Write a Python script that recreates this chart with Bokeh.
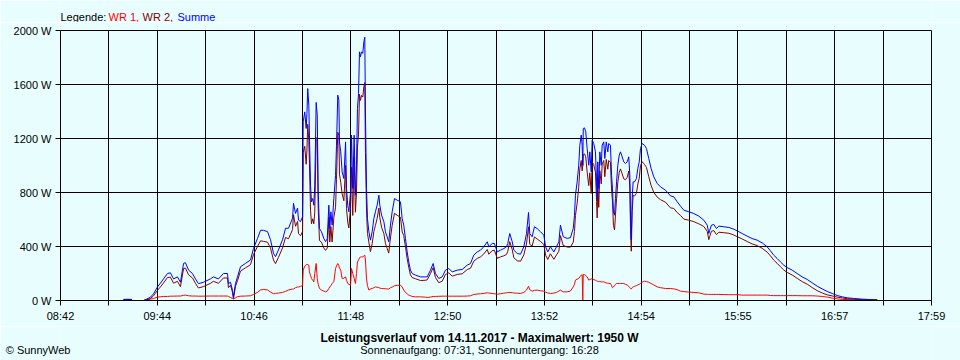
from bokeh.plotting import figure
from bokeh.models import Range1d, FixedTicker, LinearAxis
from bokeh.layouts import column
from bokeh.core.properties import value
from bokeh.embed import file_html
from bokeh.resources import INLINE

# ---------------- data ----------------
# time in minutes after midnight
t_min = [
    562.3, 567.4, 568.0, 575.1, 577.0, 579.6, 581.5, 584.0, 586.0, 587.9,
    590.4, 592.3, 594.3, 596.8, 598.7, 600.7, 601.9, 603.9, 606.4, 608.3,
    610.2, 613.4, 617.9, 619.8, 623.0, 626.2, 628.8, 629.4, 630.7, 632.0,
    632.6, 633.9, 635.2, 637.1, 640.3, 643.5, 645.4, 648.0, 649.9, 651.8,
    654.4, 656.3, 658.2, 659.5, 661.4, 664.0, 665.9, 667.8, 670.4, 671.0,
    672.3, 673.6, 674.2, 675.5, 676.8,
    677.2, 678.2, 679.1, 679.6, 680.1, 680.8, 681.2, 681.9, 682.5, 683.3,
    684.0, 684.6, 685.5, 686.2, 686.8, 687.6, 688.9, 690.4, 691.5, 692.6,
    693.6, 694.2, 694.9, 695.7, 696.8, 697.9, 698.5, 699.3, 700.0, 700.4,
    701.2, 702.1, 703.2, 704.3, 704.9, 705.7, 706.4, 707.5, 708.1, 708.9,
    709.8, 710.6, 711.3, 711.9, 712.6, 713.2, 713.8, 714.5, 715.3, 716.0,
    716.6, 717.0, 717.7, 718.3, 719.2, 720.2, 721.3, 722.4, 723.4, 724.5,
    725.6, 726.2, 727.3, 728.8, 729.8, 730.9, 731.9, 733.0, 734.1, 735.6,
    737.3, 739.4, 740.5, 741.5, 742.6, 743.7, 744.7, 745.8, 746.9, 749.0,
    752.2, 755.4,
    756.5, 758.6, 760.3, 761.8, 763.9, 766.1, 768.2, 770.3, 772.5, 775.7,
    778.9, 782.1, 784.2, 786.3, 788.5, 790.6, 792.7, 794.9, 795.9, 798.1,
    799.5, 801.3, 803.4, 805.5, 807.2, 808.0, 809.3, 810.9, 811.9, 814.1,
    816.2, 818.3, 820.0, 821.3, 822.1, 823.6, 825.1, 826.8, 829.0, 831.1,
    832.2, 833.6, 835.3, 837.5, 839.2, 840.7, 841.7, 843.5, 846.0, 848.1,
    849.9, 850.7, 851.3, 852.4, 853.4, 854.1, 855.0, 855.6, 856.0, 856.3,
    857.1, 857.9, 858.8, 859.8, 860.5, 861.4, 862.0, 863.0, 864.1, 864.8,
    865.2, 865.6, 866.2, 866.9, 867.8, 868.4, 869.4, 870.1, 871.0, 872.0,
    872.6, 873.7, 874.4, 875.0, 875.6, 876.3, 876.9, 877.6, 878.4, 879.3,
    880.1, 881.2, 882.2, 883.3, 884.4, 885.4, 886.1, 886.5, 887.0, 887.6,
    888.2, 889.1, 890.3, 891.2, 892.1, 892.9, 894.0, 895.5, 896.7, 898.2,
    899.7, 901.4, 903.6, 905.7, 908.9,
    912.1, 914.2, 916.4, 918.5, 920.6, 923.8, 927.0, 930.2, 933.4, 935.6,
    936.6, 937.2, 938.3, 939.8, 941.5, 943.0, 946.2, 949.4, 952.6, 955.1,
    957.9, 961.1, 964.3, 967.5, 970.7, 973.9, 976.0, 978.1, 980.3, 982.4,
    984.5, 986.7, 989.9, 993.1, 996.3, 999.5, 1002.7, 1005.9, 1009.1, 1012.3,
    1015.5, 1018.7, 1021.9, 1025.1, 1029.3, 1034.7, 1040.0, 1044.3,
]

# WR 1 (W)
wr1 = [
    0, 0, 0, 0, 5, 10, 15, 25, 28, 30,
    30, 32, 32, 33, 33, 38, 40, 35, 33, 33,
    32, 32, 33, 33, 33, 33, 33, 30, 22, 15,
    12, 20, 28, 32, 33, 35, 45, 60, 78, 82,
    78, 62, 50, 52, 55, 60, 68, 78, 85, 85,
    95, 100, 100, 105, 110,
    225, 255, 265, 270, 265, 262, 212, 185, 163, 150,
    138, 200, 274, 163, 120, 89, 77, 70, 64, 70,
    89, 100, 110, 125, 140, 237, 255, 274, 260, 240,
    225, 163, 165, 175, 150, 126, 120, 114, 237, 200,
    163, 126, 200, 286, 300, 315, 323, 323, 323, 330,
    336, 300, 160, 110, 77, 85, 89, 95, 101, 98,
    95, 92, 89, 88, 87, 86, 84, 95, 100, 109,
    112, 114, 100, 77, 60, 50, 40, 35, 30, 27,
    27, 25,
    22, 25, 30, 30, 31, 32, 32, 32, 32, 32,
    32, 33, 35, 45, 48, 50, 53, 57, 55, 52,
    50, 47, 50, 54, 57, 59, 60, 58, 56, 54,
    52, 60, 77, 106, 80, 69, 75, 77, 72, 69,
    62, 56, 52, 55, 60, 70, 77, 64, 64, 70,
    101, 120, 151, 158, 163, 175, 188, 190, 0, 193,
    193, 185, 175, 151, 155, 160, 163, 155, 150, 145,
    143, 143, 140, 140, 138, 138, 138, 135, 130, 128,
    126, 126, 110, 94, 100, 110, 120, 126, 126, 126,
    126, 126, 126, 120, 115, 105, 95, 89, 85, 95,
    101, 105, 110, 115, 120, 126, 135, 143, 140, 135,
    126, 115, 101, 95, 89,
    89, 86, 80, 69, 66, 62, 60, 57, 47, 46,
    45, 45, 45, 45, 45, 45, 44, 43, 43, 43,
    40, 40, 40, 40, 40, 40, 37, 36, 36, 36,
    36, 36, 36, 36, 35, 35, 35, 33, 30, 25,
    18, 12, 8, 7, 5, 4, 3, 2,
]

# Summe (W)
summe = [
    8, 8, 0, 0, 10, 25, 50, 100, 130, 160,
    200, 205, 160, 175, 135, 275, 280, 225, 200, 160,
    125, 135, 160, 175, 160, 200, 200, 125, 135, 75,
    25, 125, 175, 250, 275, 300, 385, 460, 520, 520,
    510, 450, 350, 325, 375, 450, 535, 535, 610, 720,
    645, 685, 595, 585, 620,
    1323, 1397, 1274, 1385, 1570, 1447, 1225, 854, 731, 755,
    706, 854, 1467, 1373, 805, 533, 509, 459, 435, 459,
    706, 533, 657, 558, 755, 928, 1150, 1521, 1484, 1175,
    1101, 953, 904, 1175, 830, 706, 657, 805, 1225, 830,
    1225, 780, 1002, 1422, 1533, 1842, 1805, 1842, 1830, 1916,
    1950, 1397, 830, 607, 509, 447, 509, 607, 657, 706,
    780, 706, 632, 583, 509, 472, 435, 558, 657, 755,
    743, 731, 607, 558, 459, 360, 286, 225, 200, 188,
    175, 175,
    175, 225, 274, 200, 163, 175, 225, 237, 212, 225,
    230, 262, 274, 336, 360, 373, 398, 435, 398, 422,
    422, 360, 373, 385, 398, 422, 496, 435, 373, 348,
    343, 398, 496, 652, 496, 472, 546, 533, 509, 484,
    398, 360, 398, 360, 398, 435, 558, 472, 460, 465,
    533, 632, 780, 879, 1002, 1150, 1225, 1150, 1000, 1274,
    1279, 1249, 1126, 1002, 1101, 953, 1188, 1163, 1101, 879,
    755, 1027, 830, 1101, 1002, 1150, 1175, 1052, 1175, 1101,
    1163, 1150, 928, 830, 657, 632, 755, 879, 1002, 1076,
    1101, 1064, 1027, 1015, 1027, 1064, 928, 632, 450, 755,
    879, 879, 904, 978, 1027, 1126, 1163, 1150, 1126, 1052,
    978, 916, 867, 842, 817,
    775, 768, 731, 699, 669, 657, 644, 625, 595, 558,
    496, 521, 558, 563, 533, 551, 546, 541, 528, 514,
    496, 477, 459, 447, 427, 398, 368, 336, 311, 286,
    262, 244, 225, 200, 175, 156, 131, 106, 86, 67,
    52, 37, 27, 20, 15, 10, 7, 5,
]

# WR 2 = Summe - WR 1
wr2 = [max(s - a, 0) for s, a in zip(summe, wr1)]

x_tick_labels = ["08:42", "09:44", "10:46", "11:48", "12:50",
                 "13:52", "14:54", "15:55", "16:57", "17:59"]
y_tick_values = [0, 400, 800, 1200, 1600, 2000]
y_tick_labels = ["0 W", "400 W", "800 W", "1200 W", "1600 W", "2000 W"]

legend_parts = ["Legende:", "WR 1,", "WR 2,", "Summe"]
title_text = "Leistungsverlauf vom 14.11.2017 - Maximalwert: 1950 W"
sub_text = "Sonnenaufgang: 07:31, Sonnenuntergang: 16:28"
copy_text = "\u00a9 SunnyWeb"

# ---------------- style ----------------
BG = "#E8FEFE"
FONT = "Liberation Sans"
C_WR1, C_WR2, C_SUM = "#FF0000", "#800000", "#0000FF"
W = 960
LEFT, RIGHT = 60, 29          # page x of frame: 60 .. 931
X0, X1 = 522, 1079


def strip(h, top):
    # page-pixel coordinates inside a strip whose frame is aligned with the chart
    f = figure(width=W, height=h, output_backend="svg", toolbar_location=None,
               x_range=Range1d(LEFT, W - RIGHT), y_range=Range1d(top + h, top),
               x_axis_type=None, y_axis_type=None,
               min_border_left=LEFT, min_border_right=RIGHT,
               min_border_top=0, min_border_bottom=0)
    f.background_fill_color = BG
    f.border_fill_color = BG
    f.outline_line_color = None
    return f


def txt(f, x, y, s, color="black", align="left", bold=False, size="11px"):
    f.text(x=[x], y=[y], text=[s], text_color=color, text_font=value(FONT),
           text_font_size=value(size), text_align=align, text_baseline="middle",
           text_font_style="bold" if bold else "normal")


# legend strip (page y 0..22)
leg = strip(22, 0)
for xpos, part, col in zip([60, 108, 142, 177], legend_parts,
                           ["black", C_WR1, C_WR2, C_SUM]):
    txt(leg, xpos, 16, part, col)

# main chart (page y 22..326, frame 30..300)
p = figure(width=W, height=304, output_backend="svg", toolbar_location=None,
           x_range=Range1d(X0, X1), y_range=Range1d(0, 2000),
           min_border_left=LEFT, min_border_right=RIGHT,
           min_border_top=8, min_border_bottom=26)
p.background_fill_color = BG
p.border_fill_color = BG
p.outline_line_color = "black"
p.outline_line_width = 1

n_ticks = 2 * (len(x_tick_labels) - 1)
x_ticks = [round(X0 + i * (X1 - X0) / n_ticks, 4) for i in range(n_ticks + 1)]
x_over = {}
for i, v in enumerate(x_ticks):
    x_over[v] = x_tick_labels[i // 2] if i % 2 == 0 else ""

p.xaxis.ticker = FixedTicker(ticks=x_ticks)
p.xaxis.major_label_overrides = x_over
p.yaxis.ticker = FixedTicker(ticks=y_tick_values)
p.yaxis.major_label_overrides = dict(zip(y_tick_values, y_tick_labels))

for ax in (p.xaxis[0], p.yaxis[0]):
    ax.axis_line_color = "black"
    ax.axis_line_width = 1
    ax.major_tick_line_color = "black"
    ax.major_tick_out = 5
    ax.major_tick_in = 0
    ax.minor_tick_line_color = None
    ax.major_label_text_font = FONT
    ax.major_label_text_font_size = "11px"
    ax.major_label_text_color = "black"
    ax.major_label_standoff = 4

p.xgrid.ticker = FixedTicker(ticks=x_ticks)
p.ygrid.ticker = FixedTicker(ticks=y_tick_values)
for g in (p.xgrid[0], p.ygrid[0]):
    g.grid_line_color = "black"
    g.grid_line_width = 1
    g.grid_line_alpha = 1

p.line(t_min, wr1, line_color=C_WR1, line_width=1)
p.line(t_min, wr2, line_color=C_WR2, line_width=1)
p.line(t_min, summe, line_color=C_SUM, line_width=1)

# footer strip (page y 326..360)
foot = strip(34, 326)
txt(foot, 479, 337, title_text, bold=True, align="center", size="12px")
txt(foot, 479, 349.5, sub_text, align="center")
# copyright note in the left margin, drawn as the single label of a bare axis
copy_y = 349
cax = LinearAxis(ticker=FixedTicker(ticks=[copy_y]),
                 major_label_overrides={copy_y: copy_text},
                 axis_line_color=None, major_tick_line_color=None,
                 minor_tick_line_color=None, major_tick_out=0, major_tick_in=0,
                 major_label_standoff=-10, major_label_text_font=FONT,
                 major_label_text_font_size="11px", major_label_text_color="black")
foot.add_layout(cax, "left")

layout = column(leg, p, foot, spacing=0)
open("out.html", "w").write(file_html(layout, INLINE))
